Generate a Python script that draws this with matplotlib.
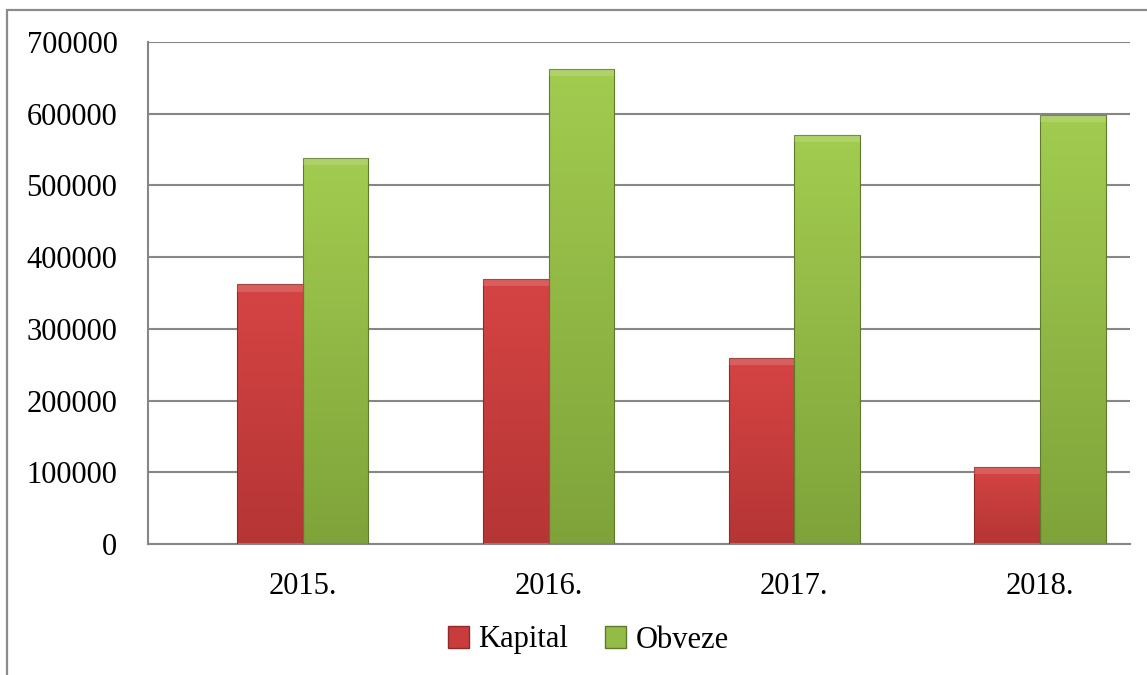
import numpy as np
import matplotlib
matplotlib.use("Agg")
import matplotlib.pyplot as plt
from matplotlib.patches import Rectangle, Patch
from matplotlib.colors import LinearSegmentedColormap

years = ["2015.", "2016.", "2017.", "2018."]
kapital = [362000, 370000, 259000, 108000]
obveze = [538000, 663000, 570000, 598000]
yticks = [0, 100000, 200000, 300000, 400000, 500000, 600000, 700000]

plt.rcParams['font.family'] = ['Liberation Serif', 'DejaVu Serif']

fig = plt.figure(figsize=(11.47, 6.75), dpi=100)
ax = fig.add_axes([148/1147, 1-544/675, (1130-148)/1147, (544-42)/675])

# outer chart frame (cut off at right and bottom)
fig.patches.append(Rectangle((7/1147, -0.1), 1.2, 1-10/675+0.1, transform=fig.transFigure,
                             fill=False, edgecolor='#8c8c8c', linewidth=1.6))

x = np.arange(len(years))
w = 0.267

red_cm = LinearSegmentedColormap.from_list('r', ['#b53535', '#d64444'])
green_cm = LinearSegmentedColormap.from_list('g', ['#7fa33a', '#a2cc50'])
grad = np.linspace(0, 1, 256).reshape(-1, 1)


def shade(bars, cmap, edge):
    for b in bars:
        x0, y0 = b.get_x(), b.get_y()
        bw, bh = b.get_width(), b.get_height()
        b.set_facecolor('none')
        b.set_edgecolor(edge)
        b.set_linewidth(0.8)
        im = ax.imshow(grad, cmap=cmap, origin='lower', aspect='auto',
                       extent=(x0, x0 + bw, y0, y0 + bh), zorder=2)
        im.set_clip_path(b)
        # light bevel along the top
        ax.add_patch(Rectangle((x0, y0 + bh - 10000), bw, 10000, facecolor='white',
                               alpha=0.15, edgecolor='none', zorder=3))


b1 = ax.bar(x - w/2, kapital, w, zorder=3, label='Kapital')
b2 = ax.bar(x + w/2, obveze, w, zorder=3, label='Obveze')
shade(b1, red_cm, '#8f2a2a')
shade(b2, green_cm, '#5f7a2a')

ax.set_xlim(-0.63, 3.366)
ax.set_ylim(0, 700000)
ax.set_yticks(yticks)
ax.set_yticklabels([str(v) for v in yticks])
ax.set_xticks(x)
ax.set_xticklabels(years)
ax.tick_params(axis='y', length=0, pad=22, labelsize=22)
ax.tick_params(axis='x', length=0, pad=20, labelsize=22)
ax.yaxis.grid(True, color='#868686', linewidth=1.5)
ax.set_axisbelow(True)
for s in ['top', 'right']:
    ax.spines[s].set_visible(False)
for s in ['left', 'bottom']:
    ax.spines[s].set_color('#868686')
    ax.spines[s].set_linewidth(1.5)

handles = [Patch(facecolor='#c83c3c', edgecolor='#8f2a2a'),
           Patch(facecolor='#92bb48', edgecolor='#5f7a2a')]
fig.legend(handles, ['Kapital', 'Obveze'], loc='center', bbox_to_anchor=(588/1147, 1-640/675),
           ncol=2, frameon=False, fontsize=22, handlelength=0.7, handleheight=0.7,
           handletextpad=0.3, columnspacing=1.2)

fig.savefig('out.png', dpi=100)
